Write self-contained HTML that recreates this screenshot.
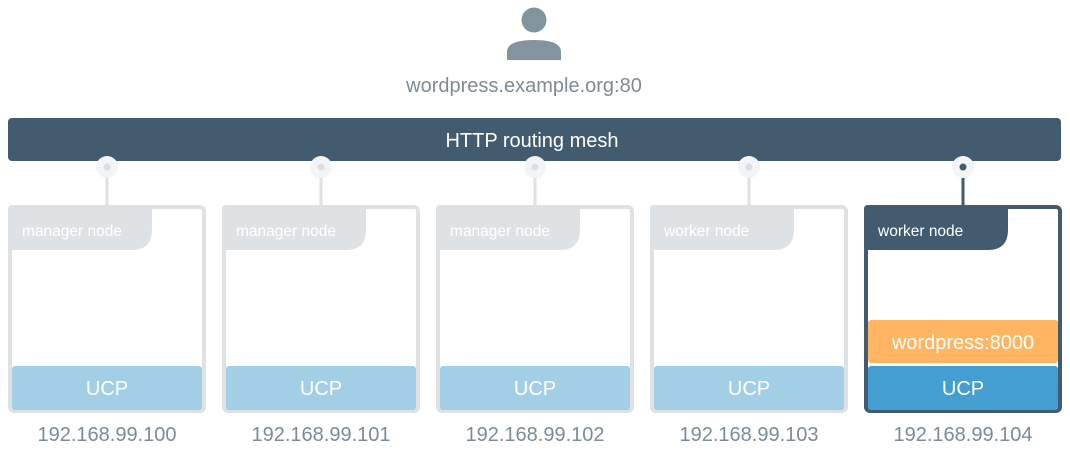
<!DOCTYPE html>
<html><head><style>html,body{margin:0;padding:0;background:#fff;}svg{display:block}</style></head>
<body>
<svg width="1070" height="452" xmlns="http://www.w3.org/2000/svg" font-family="Liberation Sans, Arial, sans-serif">
<circle cx="534" cy="20" r="12.5" fill="#82949e"/>
<path d="M507 60 L507 52 Q507 40 534 40 Q561 40 561 52 L561 60 Z" fill="#82949e"/>
<text x="524" y="92" text-anchor="middle" font-size="20" fill="#7b8c97">wordpress.example.org:80</text>
<rect x="8" y="118" width="1053" height="43" rx="4" fill="#435b6e"/>
<text x="532" y="147" text-anchor="middle" font-size="20" fill="#fff">HTTP routing mesh</text>
<g>
<line x1="107" y1="168" x2="107" y2="206" stroke="#dfe2e5" stroke-width="3"/>
<circle cx="107" cy="167" r="11" fill="#f3f4f6"/><circle cx="107" cy="167" r="3.5" fill="#dcdfe2"/>
<rect x="10" y="207" width="194" height="204" rx="4" fill="#fff" stroke="#dfe2e5" stroke-width="4"/>
<path d="M8 209 Q8 205 12 205 L152 205 L152 230 Q152 250 132 250 L8 250 Z" fill="#dfe2e5"/>
<text x="22" y="236" font-size="15.5" fill="#fff">manager node</text>
<rect x="12" y="366" width="190" height="44" rx="3" fill="#a3cfe6"/>
<text x="107" y="395" text-anchor="middle" font-size="20" fill="#fff">UCP</text>
<text x="107" y="441" text-anchor="middle" font-size="20" fill="#7b8c97">192.168.99.100</text>
</g>
<g transform="translate(214,0)">
<line x1="107" y1="168" x2="107" y2="206" stroke="#dfe2e5" stroke-width="3"/>
<circle cx="107" cy="167" r="11" fill="#f3f4f6"/><circle cx="107" cy="167" r="3.5" fill="#dcdfe2"/>
<rect x="10" y="207" width="194" height="204" rx="4" fill="#fff" stroke="#dfe2e5" stroke-width="4"/>
<path d="M8 209 Q8 205 12 205 L152 205 L152 230 Q152 250 132 250 L8 250 Z" fill="#dfe2e5"/>
<text x="22" y="236" font-size="15.5" fill="#fff">manager node</text>
<rect x="12" y="366" width="190" height="44" rx="3" fill="#a3cfe6"/>
<text x="107" y="395" text-anchor="middle" font-size="20" fill="#fff">UCP</text>
<text x="107" y="441" text-anchor="middle" font-size="20" fill="#7b8c97">192.168.99.101</text>
</g>
<g transform="translate(428,0)">
<line x1="107" y1="168" x2="107" y2="206" stroke="#dfe2e5" stroke-width="3"/>
<circle cx="107" cy="167" r="11" fill="#f3f4f6"/><circle cx="107" cy="167" r="3.5" fill="#dcdfe2"/>
<rect x="10" y="207" width="194" height="204" rx="4" fill="#fff" stroke="#dfe2e5" stroke-width="4"/>
<path d="M8 209 Q8 205 12 205 L152 205 L152 230 Q152 250 132 250 L8 250 Z" fill="#dfe2e5"/>
<text x="22" y="236" font-size="15.5" fill="#fff">manager node</text>
<rect x="12" y="366" width="190" height="44" rx="3" fill="#a3cfe6"/>
<text x="107" y="395" text-anchor="middle" font-size="20" fill="#fff">UCP</text>
<text x="107" y="441" text-anchor="middle" font-size="20" fill="#7b8c97">192.168.99.102</text>
</g>
<g transform="translate(642,0)">
<line x1="107" y1="168" x2="107" y2="206" stroke="#dfe2e5" stroke-width="3"/>
<circle cx="107" cy="167" r="11" fill="#f3f4f6"/><circle cx="107" cy="167" r="3.5" fill="#dcdfe2"/>
<rect x="10" y="207" width="194" height="204" rx="4" fill="#fff" stroke="#dfe2e5" stroke-width="4"/>
<path d="M8 209 Q8 205 12 205 L152 205 L152 230 Q152 250 132 250 L8 250 Z" fill="#dfe2e5"/>
<text x="22" y="236" font-size="15.5" fill="#fff">worker node</text>
<rect x="12" y="366" width="190" height="44" rx="3" fill="#a3cfe6"/>
<text x="107" y="395" text-anchor="middle" font-size="20" fill="#fff">UCP</text>
<text x="107" y="441" text-anchor="middle" font-size="20" fill="#7b8c97">192.168.99.103</text>
</g>
<g transform="translate(856,0)">
<line x1="107" y1="168" x2="107" y2="206" stroke="#435b6e" stroke-width="3"/>
<circle cx="107" cy="167" r="11" fill="#f3f4f6"/><circle cx="107" cy="167" r="3.5" fill="#435b6e"/>
<rect x="10" y="207" width="194" height="204" rx="4" fill="#fff" stroke="#435b6e" stroke-width="4"/>
<path d="M8 209 Q8 205 12 205 L152 205 L152 230 Q152 250 132 250 L8 250 Z" fill="#435b6e"/>
<text x="22" y="236" font-size="15.5" fill="#fff">worker node</text>
<rect x="12" y="320" width="190" height="43" rx="3" fill="#ffb562"/>
<text x="107" y="349" text-anchor="middle" font-size="20" fill="#fff">wordpress:8000</text>
<rect x="12" y="366" width="190" height="44" rx="3" fill="#449ed1"/>
<text x="107" y="395" text-anchor="middle" font-size="20" fill="#fff">UCP</text>
<text x="107" y="441" text-anchor="middle" font-size="20" fill="#7b8c97">192.168.99.104</text>
</g>
</svg>
</body></html>
